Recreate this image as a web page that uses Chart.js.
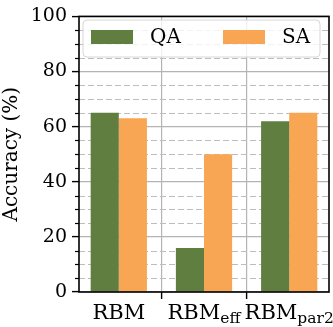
<!DOCTYPE html>
<html>
<head>
<meta charset="utf-8">
<script src="https://cdn.jsdelivr.net/npm/chart.js@4"></script>
<style>
html,body{margin:0;padding:0;background:#fff;}
#c{display:block;}
</style>
</head>
<body>
<canvas id="c" width="333" height="327" style="width:333px;height:327px"></canvas>
<script>
// ---- data ----
const categories = ['RBM', 'RBM', 'RBM'];
const subscripts = ['', 'eff', 'par2'];
const seriesNames = ['QA', 'SA'];
const qaValues = [65, 16, 62];
const saValues = [63, 50, 65];
const yTicks = [0, 20, 40, 60, 80, 100];
const yMinorTicks = [5, 10, 15, 25, 30, 35, 45, 50, 55, 65, 70, 75, 85, 90, 95];

const GREEN = '#5f7e3f';
const ORANGE = '#f8a653';
const FONT = "'DejaVu Serif'";

const toPoints = vals => vals.map((v, i) => ({x: i, y: v}));

const customPlugin = {
  id: 'custom',
  beforeDatasetsDraw(chart) {
    const {ctx, chartArea: a, scales: {y}} = chart;
    ctx.save();
    ctx.strokeStyle = '#bdbdbd';
    ctx.lineWidth = 1;
    ctx.setLineDash([6, 3]);
    yMinorTicks.forEach(v => {
      const py = Math.round(y.getPixelForValue(v)) + 0.5;
      ctx.beginPath();
      ctx.moveTo(a.left, py);
      ctx.lineTo(a.right, py);
      ctx.stroke();
    });
    ctx.restore();
  },
  afterDraw(chart) {
    const {ctx, chartArea: a, scales: {x, y}} = chart;
    ctx.save();
    // minor ticks
    ctx.strokeStyle = '#000';
    ctx.lineWidth = 1.2;
    yMinorTicks.forEach(v => {
      const py = Math.round(y.getPixelForValue(v)) + 0.5;
      ctx.beginPath();
      ctx.moveTo(a.left - 4, py);
      ctx.lineTo(a.left, py);
      ctx.stroke();
    });
    // spines
    ctx.lineWidth = 1.6;
    ctx.strokeRect(a.left, a.top, a.right - a.left, a.bottom - a.top);

    // x labels with subscripts
    ctx.fillStyle = '#000';
    ctx.textBaseline = 'alphabetic';
    const mainFont = '21px ' + FONT;
    const subFont = '15.5px ' + FONT;
    categories.forEach((c, i) => {
      const cx = x.getPixelForValue(i);
      ctx.font = mainFont;
      const w1 = ctx.measureText(c).width;
      ctx.font = subFont;
      const w2 = subscripts[i] ? ctx.measureText(subscripts[i]).width : 0;
      const start = cx - (w1 + w2) / 2;
      const base = 319;
      ctx.font = mainFont;
      ctx.textAlign = 'left';
      ctx.fillText(c, start, base);
      if (subscripts[i]) {
        ctx.font = subFont;
        ctx.fillText(subscripts[i], start + w1, base + 4);
      }
    });

    // legend
    const lx = 83, ly = 20, lw = 237, lh = 37, r = 4;
    ctx.beginPath();
    ctx.moveTo(lx + r, ly);
    ctx.arcTo(lx + lw, ly, lx + lw, ly + lh, r);
    ctx.arcTo(lx + lw, ly + lh, lx, ly + lh, r);
    ctx.arcTo(lx, ly + lh, lx, ly, r);
    ctx.arcTo(lx, ly, lx + lw, ly, r);
    ctx.closePath();
    ctx.fillStyle = 'rgba(255,255,255,0.8)';
    ctx.fill();
    ctx.strokeStyle = '#d6d6d6';
    ctx.lineWidth = 1;
    ctx.stroke();
    const items = [
      {name: seriesNames[0], color: GREEN, px: 91, tx: 150},
      {name: seriesNames[1], color: ORANGE, px: 223, tx: 282}
    ];
    ctx.font = '20px ' + FONT;
    ctx.textAlign = 'left';
    ctx.textBaseline = 'middle';
    items.forEach(it => {
      ctx.fillStyle = it.color;
      ctx.fillRect(it.px, 30, 42, 14);
      ctx.fillStyle = '#000';
      ctx.fillText(it.name, it.tx, 38);
    });
    ctx.restore();
  }
};

new Chart(document.getElementById('c'), {
  type: 'bar',
  data: {
    datasets: [
      {label: seriesNames[0], data: toPoints(qaValues), backgroundColor: GREEN, borderWidth: 0},
      {label: seriesNames[1], data: toPoints(saValues), backgroundColor: ORANGE, borderWidth: 0}
    ]
  },
  options: {
    responsive: false,
    devicePixelRatio: 1,
    animation: false,
    events: [],
    layout: {padding: {left: 0, right: 4, top: 10, bottom: 0}},
    plugins: {legend: {display: false}, tooltip: {enabled: false}},
    datasets: {bar: {categoryPercentage: 0.66, barPercentage: 1.0}},
    scales: {
      x: {
        type: 'linear',
        min: -0.467,
        max: 2.467,
        offset: false,
        afterFit(s) { s.height = 35; },
        afterBuildTicks(s) { s.ticks = categories.map((c, i) => ({value: i})); },
        ticks: {callback: () => '', includeBounds: false},
        grid: {color: '#b4b4b4', lineWidth: 1.2, tickLength: 7, tickColor: '#000', tickWidth: 1.4},
        border: {display: false}
      },
      y: {
        min: 0,
        max: 100,
        afterFit(s) { s.width = 79; },
        afterBuildTicks(s) { s.ticks = yTicks.map(v => ({value: v})); },
        ticks: {font: {family: FONT, size: 19}, color: '#000', padding: 5},
        grid: {color: '#b4b4b4', lineWidth: 1.2, tickLength: 7, tickColor: '#000', tickWidth: 1.4},
        border: {display: false},
        title: {display: true, text: 'Accuracy (%)', font: {family: FONT, size: 20}, color: '#000', padding: {top: 0, bottom: 0}}
      }
    }
  },
  plugins: [customPlugin]
});
</script>
</body>
</html>
